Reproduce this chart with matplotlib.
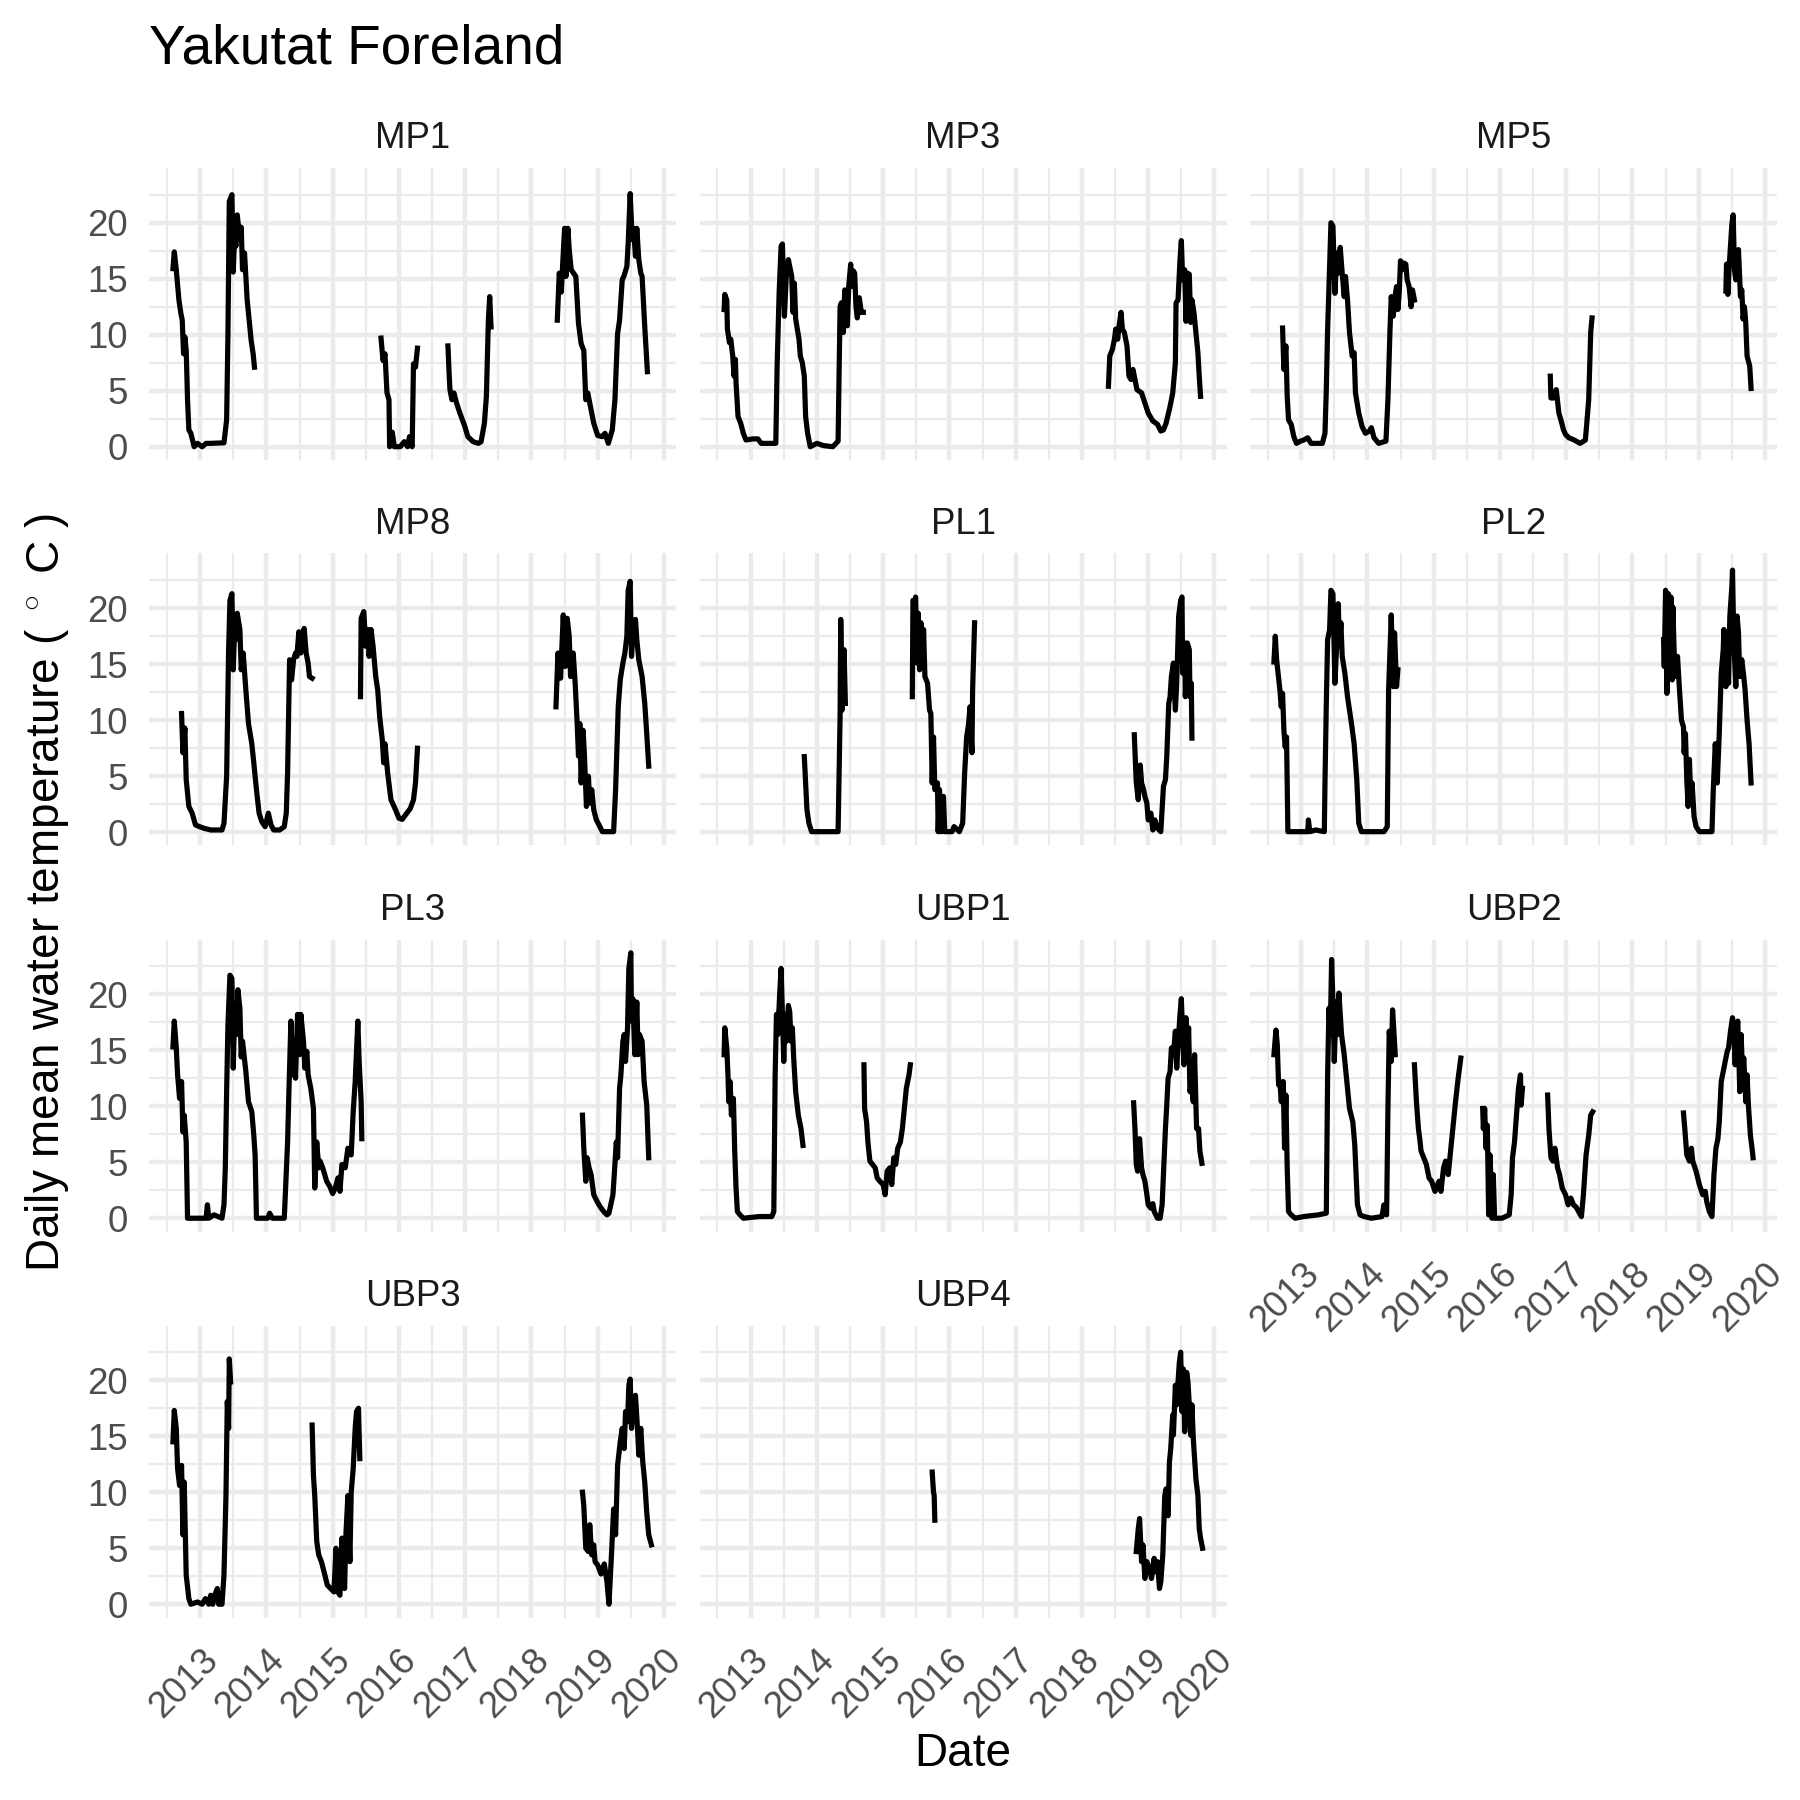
import numpy as np
import matplotlib
matplotlib.use("Agg")
import matplotlib.pyplot as plt

plt.rcParams["font.family"] = ["Liberation Sans", "DejaVu Sans"]
plt.rcParams["mathtext.fontset"] = "custom"
plt.rcParams["mathtext.rm"] = "Liberation Sans"

TITLE = "Yakutat Foreland"
SITES = ["MP1", "MP3", "MP5", "MP8", "PL1", "PL2", "PL3", "UBP1", "UBP2", "UBP3", "UBP4"]
YEAR_TICKS = [2013, 2014, 2015, 2016, 2017, 2018, 2019, 2020]
TEMP_TICKS = [0, 5, 10, 15, 20]

GAP = (None, None)

# (decimal year, daily mean water temperature degC)
MP1 = [
    (2012.59, 15.9), (2012.61, 17.4), (2012.64, 15.8), (2012.68, 13.1), (2012.71, 11.9),
    (2012.73, 11.3), (2012.75, 8.3), (2012.77, 9.8), (2012.79, 8.6), (2012.81, 4.2),
    (2012.83, 1.5), (2012.86, 1.2), (2012.91, 0.0), (2012.96, 0.3), (2013.03, 0.0),
    (2013.09, 0.3), (2013.16, 0.3), (2013.36, 0.35), (2013.40, 2.4), (2013.42, 10.1),
    (2013.44, 21.9), (2013.48, 22.5), (2013.50, 15.6), (2013.52, 18.75), (2013.54, 17.9),
    (2013.56, 20.7), (2013.60, 18.5), (2013.62, 19.6), (2013.64, 15.8), (2013.67, 17.3),
    (2013.71, 13.1), (2013.77, 9.5), (2013.80, 8.3), (2013.82, 7.1),
    GAP,
    (2015.73, 9.7), (2015.76, 7.7), (2015.79, 8.3), (2015.82, 4.8), (2015.85, 4.2),
    (2015.86, 0.0), (2015.90, 1.3), (2015.93, 0.0), (2016.02, 0.0), (2016.08, 0.45),
    (2016.13, 0.0), (2016.16, 0.9), (2016.20, 0.0), (2016.22, 7.4), (2016.25, 7.1),
    (2016.28, 8.8),
    GAP,
    (2016.74, 9.0), (2016.76, 6.25), (2016.77, 5.1), (2016.80, 4.2), (2016.83, 4.8),
    (2016.87, 3.9), (2016.92, 3.0), (2016.99, 1.9), (2017.04, 0.9), (2017.12, 0.45),
    (2017.20, 0.3), (2017.24, 0.45), (2017.29, 2.1), (2017.32, 4.5), (2017.35, 11.3),
    (2017.37, 13.4), (2017.39, 10.7),
    GAP,
    (2018.39, 11.3), (2018.42, 15.5), (2018.45, 13.8), (2018.47, 16.1), (2018.50, 19.5),
    (2018.52, 15.2), (2018.55, 19.5), (2018.57, 17.6), (2018.60, 15.8), (2018.67, 15.2),
    (2018.71, 11.0), (2018.75, 9.2), (2018.79, 8.6), (2018.82, 4.2), (2018.85, 4.8),
    (2018.88, 3.9), (2018.94, 2.1), (2019.00, 1.0), (2019.07, 0.9), (2019.11, 1.2),
    (2019.16, 0.3), (2019.22, 1.5), (2019.26, 4.2), (2019.30, 10.1), (2019.33, 11.3),
    (2019.37, 14.9), (2019.40, 15.3), (2019.44, 16.1), (2019.46, 18.2), (2019.49, 22.6),
    (2019.52, 18.5), (2019.54, 19.5), (2019.57, 17.0), (2019.59, 19.5), (2019.62, 16.7),
    (2019.65, 15.5), (2019.67, 15.2), (2019.71, 10.7), (2019.75, 6.7),
]

MP3 = [
    (2012.60, 12.25), (2012.61, 13.6), (2012.64, 13.1), (2012.65, 10.5), (2012.68, 9.3),
    (2012.70, 9.6), (2012.73, 8.1), (2012.75, 6.3), (2012.77, 7.8), (2012.78, 5.7),
    (2012.81, 2.7), (2012.85, 2.1), (2012.89, 1.2), (2012.93, 0.6), (2013.03, 0.7),
    (2013.11, 0.7), (2013.16, 0.3), (2013.38, 0.3), (2013.40, 7.2), (2013.43, 13.7),
    (2013.46, 17.9), (2013.48, 18.1), (2013.51, 11.65), (2013.54, 15.5), (2013.57, 16.7),
    (2013.59, 16.1), (2013.62, 15.2), (2013.64, 12.0), (2013.66, 14.6), (2013.68, 11.4),
    (2013.73, 9.6), (2013.75, 8.1), (2013.78, 7.5), (2013.81, 6.3), (2013.83, 2.7),
    (2013.86, 1.2), (2013.90, 0.0), (2014.00, 0.3), (2014.10, 0.1), (2014.24, 0.0),
    (2014.32, 0.5), (2014.35, 12.5), (2014.37, 12.85), (2014.40, 10.2), (2014.42, 14.0),
    (2014.44, 13.7), (2014.46, 10.8), (2014.48, 14.3), (2014.51, 16.3), (2014.52, 14.3),
    (2014.55, 15.7), (2014.57, 15.5), (2014.59, 12.5), (2014.61, 11.5), (2014.64, 13.3),
    (2014.67, 12.0), (2014.70, 12.0),
    GAP,
    (2018.40, 5.4), (2018.42, 8.1), (2018.46, 8.7), (2018.49, 9.6), (2018.51, 10.5),
    (2018.54, 9.6), (2018.56, 10.8), (2018.59, 12.0), (2018.61, 10.5), (2018.64, 10.2),
    (2018.68, 9.0), (2018.71, 6.3), (2018.74, 6.0), (2018.77, 6.9), (2018.80, 6.0),
    (2018.83, 5.1), (2018.90, 4.8), (2018.95, 3.9), (2019.00, 3.0), (2019.07, 2.3),
    (2019.14, 2.0), (2019.19, 1.4), (2019.23, 1.5), (2019.27, 2.1), (2019.33, 3.6),
    (2019.37, 4.8), (2019.41, 7.5), (2019.42, 12.85), (2019.45, 13.1), (2019.48, 16.7),
    (2019.50, 18.4), (2019.52, 14.9), (2019.55, 15.8), (2019.57, 11.2), (2019.59, 15.5),
    (2019.62, 15.4), (2019.64, 11.1), (2019.66, 13.1), (2019.69, 12.0), (2019.72, 10.2),
    (2019.75, 8.4), (2019.77, 6.3), (2019.79, 4.5),
]

MP5 = [
    (2012.72, 10.6), (2012.74, 6.9), (2012.77, 9.0), (2012.79, 4.5), (2012.81, 2.4),
    (2012.85, 2.0), (2012.89, 0.9), (2012.93, 0.3), (2012.99, 0.5), (2013.04, 0.6),
    (2013.10, 0.8), (2013.15, 0.3), (2013.32, 0.3), (2013.36, 1.2), (2013.38, 5.1),
    (2013.40, 10.5), (2013.43, 16.1), (2013.45, 20.0), (2013.48, 19.7), (2013.51, 13.7),
    (2013.54, 17.3), (2013.56, 15.5), (2013.59, 17.8), (2013.62, 15.5), (2013.65, 13.4),
    (2013.67, 15.2), (2013.70, 13.1), (2013.73, 10.2), (2013.77, 8.1), (2013.80, 8.4),
    (2013.82, 4.8), (2013.87, 3.0), (2013.92, 1.8), (2013.97, 1.2), (2014.03, 1.4),
    (2014.06, 1.7), (2014.10, 0.8), (2014.17, 0.3), (2014.28, 0.5), (2014.31, 4.2),
    (2014.34, 10.2), (2014.36, 13.4), (2014.39, 11.65), (2014.41, 13.1), (2014.44, 14.3),
    (2014.46, 12.25), (2014.48, 13.7), (2014.50, 16.6), (2014.52, 15.8), (2014.55, 16.4),
    (2014.58, 16.3), (2014.60, 14.9), (2014.63, 14.3), (2014.66, 12.5), (2014.68, 14.0),
    (2014.71, 13.1),
    GAP,
    (2016.76, 6.3), (2016.77, 4.35), (2016.81, 4.35), (2016.85, 5.1), (2016.89, 3.0),
    (2016.92, 2.4), (2016.96, 1.5), (2016.99, 1.1), (2017.04, 0.8), (2017.12, 0.6),
    (2017.21, 0.3), (2017.29, 0.6), (2017.34, 4.2), (2017.37, 10.2), (2017.39, 11.5),
    GAP,
    (2019.41, 13.9), (2019.42, 16.3), (2019.44, 13.6), (2019.46, 16.1), (2019.50, 19.85),
    (2019.52, 20.7), (2019.54, 15.8), (2019.56, 14.9), (2019.58, 17.5), (2019.60, 17.6),
    (2019.63, 13.4), (2019.65, 14.0), (2019.67, 11.4), (2019.69, 12.5), (2019.71, 11.1),
    (2019.73, 8.1), (2019.77, 7.2), (2019.79, 5.2),
]

MP8 = [
    (2012.72, 10.6), (2012.74, 7.1), (2012.77, 9.3), (2012.79, 4.7), (2012.83, 2.3),
    (2012.88, 1.7), (2012.93, 0.65), (2012.99, 0.5), (2013.06, 0.35), (2013.16, 0.2),
    (2013.33, 0.2), (2013.36, 0.8), (2013.40, 5.0), (2013.43, 16.3), (2013.45, 20.7),
    (2013.48, 21.3), (2013.50, 14.5), (2013.52, 18.1), (2013.54, 17.2), (2013.56, 19.55),
    (2013.60, 18.1), (2013.62, 14.5), (2013.65, 16.0), (2013.69, 12.7), (2013.73, 9.7),
    (2013.78, 7.9), (2013.81, 6.2), (2013.85, 3.8), (2013.89, 1.7), (2013.93, 0.95),
    (2013.98, 0.5), (2014.03, 1.7), (2014.07, 0.65), (2014.11, 0.2), (2014.20, 0.2),
    (2014.27, 0.5), (2014.30, 1.7), (2014.32, 5.3), (2014.35, 15.4), (2014.38, 13.6),
    (2014.41, 15.4), (2014.44, 16.0), (2014.46, 15.7), (2014.49, 17.9), (2014.52, 16.0),
    (2014.54, 16.9), (2014.57, 18.2), (2014.60, 16.0), (2014.63, 15.1), (2014.65, 13.9),
    (2014.69, 13.75),
    GAP,
    (2015.42, 12.1), (2015.43, 19.1), (2015.47, 19.7), (2015.50, 16.6), (2015.53, 18.1),
    (2015.55, 15.7), (2015.58, 18.1), (2015.61, 16.6), (2015.65, 13.9), (2015.68, 12.7),
    (2015.71, 10.3), (2015.75, 8.2), (2015.77, 6.2), (2015.79, 7.9), (2015.83, 5.3),
    (2015.88, 2.9), (2015.95, 2.0), (2016.00, 1.25), (2016.05, 1.15), (2016.10, 1.55),
    (2016.17, 2.1), (2016.22, 2.9), (2016.25, 4.4), (2016.28, 7.5),
    GAP,
    (2018.37, 11.2), (2018.40, 16.0), (2018.44, 13.75), (2018.46, 16.6), (2018.48, 19.4),
    (2018.51, 14.8), (2018.54, 19.1), (2018.57, 17.5), (2018.59, 13.9), (2018.63, 16.0),
    (2018.66, 13.3), (2018.69, 9.7), (2018.71, 6.8), (2018.73, 9.7), (2018.75, 4.4),
    (2018.78, 9.1), (2018.80, 6.8), (2018.83, 2.3), (2018.86, 5.0), (2018.88, 2.6),
    (2018.91, 3.8), (2018.94, 2.0), (2018.98, 1.1), (2019.02, 0.65), (2019.07, 0.05),
    (2019.24, 0.05), (2019.27, 3.8), (2019.31, 11.2), (2019.34, 13.6), (2019.38, 15.1),
    (2019.41, 16.0), (2019.44, 17.5), (2019.46, 21.6), (2019.49, 22.4), (2019.51, 15.7),
    (2019.54, 18.4), (2019.57, 19.0), (2019.59, 17.2), (2019.62, 15.4), (2019.65, 14.5),
    (2019.67, 13.9), (2019.71, 11.5), (2019.74, 8.8), (2019.77, 5.9),
]

PL1 = [
    (2013.81, 6.75), (2013.82, 5.6), (2013.85, 2.0), (2013.88, 0.8), (2013.92, 0.05),
    (2014.32, 0.05), (2014.35, 10.3), (2014.36, 19.0), (2014.38, 10.9), (2014.41, 16.3),
    (2014.43, 11.5),
    GAP,
    (2015.44, 12.1), (2015.45, 20.7), (2015.48, 20.4), (2015.49, 21.0), (2015.51, 15.1),
    (2015.53, 19.55), (2015.55, 14.5), (2015.57, 18.7), (2015.59, 14.8), (2015.61, 18.1),
    (2015.63, 13.9), (2015.67, 13.3), (2015.70, 10.9), (2015.72, 10.6), (2015.74, 4.4),
    (2015.76, 8.5), (2015.78, 3.8), (2015.82, 4.4), (2015.83, 0.05), (2015.85, 3.8),
    (2015.88, 0.05), (2015.91, 3.2), (2015.93, 0.05), (2016.04, 0.05), (2016.07, 0.5),
    (2016.15, 0.05), (2016.20, 0.8), (2016.23, 5.3), (2016.26, 8.5), (2016.29, 9.7),
    (2016.31, 11.2), (2016.34, 7.1), (2016.35, 12.7), (2016.38, 18.7),
    GAP,
    (2018.79, 8.7), (2018.82, 4.4), (2018.85, 2.9), (2018.88, 6.0), (2018.90, 4.4),
    (2018.93, 3.8), (2018.95, 3.2), (2018.98, 2.6), (2019.00, 1.1), (2019.04, 1.7),
    (2019.07, 0.2), (2019.10, 1.1), (2019.14, 0.35), (2019.19, 0.05), (2019.23, 4.1),
    (2019.26, 4.7), (2019.28, 6.75), (2019.31, 11.5), (2019.33, 12.1), (2019.35, 13.9),
    (2019.38, 15.1), (2019.41, 10.9), (2019.43, 13.3), (2019.46, 19.3), (2019.49, 20.7),
    (2019.51, 21.0), (2019.52, 14.2), (2019.55, 16.9), (2019.56, 12.1), (2019.59, 16.9),
    (2019.62, 16.3), (2019.63, 12.1), (2019.65, 13.3), (2019.66, 8.4),
]

PL2 = [
    (2012.59, 15.2), (2012.61, 17.5), (2012.63, 15.4), (2012.68, 12.7), (2012.70, 11.2),
    (2012.72, 12.4), (2012.74, 9.1), (2012.76, 7.6), (2012.78, 8.5), (2012.80, 0.05),
    (2013.10, 0.05), (2013.11, 1.1), (2013.13, 0.05), (2013.22, 0.2), (2013.35, 0.05),
    (2013.36, 4.4), (2013.38, 11.5), (2013.40, 17.2), (2013.43, 18.1), (2013.45, 21.6),
    (2013.48, 21.3), (2013.51, 13.3), (2013.54, 17.2), (2013.56, 20.4), (2013.58, 16.6),
    (2013.60, 18.7), (2013.62, 15.7), (2013.66, 14.2), (2013.70, 12.1), (2013.76, 9.7),
    (2013.80, 7.9), (2013.84, 4.7), (2013.87, 0.8), (2013.91, 0.05), (2014.25, 0.05),
    (2014.30, 0.5), (2014.32, 12.7), (2014.34, 16.0), (2014.36, 19.4), (2014.39, 13.0),
    (2014.41, 17.8), (2014.44, 13.0), (2014.46, 14.5),
    GAP,
    (2018.47, 17.2), (2018.48, 14.8), (2018.50, 21.6), (2018.52, 12.4), (2018.54, 21.3),
    (2018.56, 13.9), (2018.58, 21.0), (2018.60, 13.6), (2018.61, 20.1), (2018.63, 16.0),
    (2018.66, 13.9), (2018.68, 15.7), (2018.71, 12.7), (2018.74, 10.0), (2018.77, 9.4),
    (2018.78, 7.1), (2018.80, 8.8), (2018.82, 4.7), (2018.84, 2.3), (2018.86, 6.5),
    (2018.88, 2.9), (2018.90, 4.4), (2018.93, 1.4), (2018.96, 0.5), (2019.01, 0.05),
    (2019.20, 0.05), (2019.22, 3.8), (2019.25, 7.9), (2019.28, 4.4), (2019.31, 8.8),
    (2019.34, 14.2), (2019.37, 16.3), (2019.38, 18.1), (2019.41, 13.0), (2019.43, 17.2),
    (2019.45, 13.3), (2019.47, 19.3), (2019.50, 21.9), (2019.51, 23.4), (2019.53, 16.9),
    (2019.56, 13.0), (2019.58, 19.3), (2019.60, 17.8), (2019.62, 13.9), (2019.65, 15.4),
    (2019.68, 13.9), (2019.70, 12.7), (2019.73, 10.0), (2019.76, 7.9), (2019.79, 4.4),
]

PL3 = [
    (2012.59, 15.3), (2012.61, 17.6), (2012.64, 15.2), (2012.66, 12.8), (2012.69, 10.7),
    (2012.72, 12.2), (2012.74, 7.7), (2012.76, 9.2), (2012.79, 6.8), (2012.81, 0.0),
    (2013.09, 0.0), (2013.11, 1.2), (2013.13, 0.0), (2013.21, 0.3), (2013.33, 0.0),
    (2013.36, 1.2), (2013.38, 4.5), (2013.40, 11.3), (2013.42, 17.3), (2013.45, 21.7),
    (2013.48, 21.4), (2013.50, 13.4), (2013.52, 18.2), (2013.55, 16.4), (2013.57, 20.4),
    (2013.60, 18.75), (2013.62, 14.4), (2013.64, 15.8), (2013.69, 13.1), (2013.73, 10.4),
    (2013.78, 9.5), (2013.81, 7.4), (2013.83, 5.65), (2013.85, 0.0), (2014.02, 0.0),
    (2014.05, 0.45), (2014.09, 0.0), (2014.27, 0.0), (2014.29, 2.7), (2014.32, 6.8),
    (2014.34, 11.3), (2014.37, 17.6), (2014.40, 12.8), (2014.42, 15.8), (2014.44, 12.5),
    (2014.47, 18.2), (2014.50, 14.6), (2014.52, 18.2), (2014.56, 15.8), (2014.58, 13.4),
    (2014.61, 14.9), (2014.63, 12.8), (2014.67, 11.6), (2014.71, 9.8), (2014.73, 2.7),
    (2014.76, 6.8), (2014.79, 4.5), (2014.81, 5.1), (2014.85, 4.5), (2014.91, 3.3),
    (2014.96, 2.8), (2015.00, 2.2), (2015.04, 2.7), (2015.08, 3.6), (2015.11, 2.4),
    (2015.14, 4.8), (2015.19, 4.5), (2015.23, 6.25), (2015.28, 5.65), (2015.31, 9.5),
    (2015.34, 12.2), (2015.38, 17.6), (2015.40, 14.0), (2015.43, 10.4), (2015.44, 7.1),
    GAP,
    (2018.77, 9.2), (2018.79, 6.25), (2018.82, 3.3), (2018.84, 5.4), (2018.87, 4.5),
    (2018.90, 3.9), (2018.94, 2.1), (2018.99, 1.5), (2019.04, 1.0), (2019.09, 0.6),
    (2019.14, 0.3), (2019.17, 0.45), (2019.23, 2.1), (2019.25, 3.9), (2019.28, 6.8),
    (2019.30, 5.4), (2019.33, 11.6), (2019.35, 12.8), (2019.38, 15.8), (2019.40, 16.4),
    (2019.42, 14.0), (2019.45, 17.0), (2019.47, 22.3), (2019.50, 23.7), (2019.51, 17.6),
    (2019.53, 19.6), (2019.56, 14.6), (2019.59, 19.3), (2019.61, 14.6), (2019.63, 16.4),
    (2019.67, 15.8), (2019.70, 12.2), (2019.74, 10.1), (2019.77, 5.4),
]

UBP1 = [
    (2012.60, 14.6), (2012.61, 17.0), (2012.64, 15.2), (2012.66, 12.5), (2012.67, 10.4),
    (2012.69, 12.2), (2012.71, 9.2), (2012.74, 10.7), (2012.76, 6.0), (2012.78, 2.7),
    (2012.80, 0.6), (2012.84, 0.3), (2012.89, 0.0), (2013.13, 0.15), (2013.32, 0.15),
    (2013.35, 0.6), (2013.37, 12.8), (2013.39, 18.2), (2013.41, 16.4), (2013.44, 20.2),
    (2013.46, 22.3), (2013.48, 18.2), (2013.50, 14.0), (2013.52, 18.2), (2013.54, 15.8),
    (2013.57, 19.0), (2013.59, 18.45), (2013.61, 15.8), (2013.63, 17.0), (2013.65, 14.3),
    (2013.68, 11.3), (2013.72, 9.2), (2013.74, 8.6), (2013.76, 8.0), (2013.79, 6.5),
    GAP,
    (2014.71, 13.7), (2014.72, 9.8), (2014.75, 8.6), (2014.77, 6.8), (2014.80, 5.1),
    (2014.84, 4.8), (2014.88, 4.5), (2014.91, 3.6), (2014.95, 3.3), (2015.00, 3.0),
    (2015.03, 2.1), (2015.06, 4.2), (2015.10, 4.5), (2015.13, 3.0), (2015.16, 5.4),
    (2015.19, 4.8), (2015.22, 6.25), (2015.26, 6.8), (2015.29, 8.0), (2015.32, 9.8),
    (2015.35, 11.6), (2015.39, 12.8), (2015.41, 13.7),
    GAP,
    (2018.78, 10.3), (2018.80, 8.0), (2018.82, 4.8), (2018.84, 4.2), (2018.87, 7.1),
    (2018.90, 4.5), (2018.92, 3.9), (2018.95, 3.3), (2018.98, 2.1), (2019.00, 1.2),
    (2019.04, 0.9), (2019.07, 1.3), (2019.09, 0.6), (2019.14, 0.0), (2019.18, 0.0),
    (2019.21, 1.2), (2019.23, 3.9), (2019.26, 8.0), (2019.28, 10.1), (2019.30, 12.5),
    (2019.33, 13.1), (2019.35, 15.2), (2019.38, 14.6), (2019.41, 16.7), (2019.43, 13.4),
    (2019.46, 16.4), (2019.48, 18.2), (2019.50, 19.6), (2019.52, 16.4), (2019.54, 13.7),
    (2019.57, 17.9), (2019.59, 15.2), (2019.61, 17.0), (2019.63, 11.3), (2019.65, 11.9),
    (2019.68, 10.4), (2019.70, 14.6), (2019.73, 8.0), (2019.76, 8.0), (2019.78, 6.0),
    (2019.81, 4.9),
]

UBP2 = [
    (2012.59, 14.6), (2012.62, 16.8), (2012.64, 15.5), (2012.66, 11.9), (2012.68, 12.2),
    (2012.70, 10.4), (2012.73, 12.2), (2012.75, 6.25), (2012.77, 11.0), (2012.79, 4.5),
    (2012.81, 0.6), (2012.85, 0.3), (2012.91, 0.0), (2013.04, 0.15), (2013.26, 0.3),
    (2013.38, 0.45), (2013.40, 12.8), (2013.42, 18.75), (2013.44, 16.4), (2013.46, 23.1),
    (2013.48, 19.35), (2013.50, 14.0), (2013.53, 19.35), (2013.55, 16.4), (2013.57, 20.1),
    (2013.59, 18.2), (2013.61, 16.4), (2013.65, 14.6), (2013.69, 12.2), (2013.73, 9.8),
    (2013.78, 8.6), (2013.81, 6.5), (2013.83, 3.9), (2013.85, 1.2), (2013.89, 0.3),
    (2013.95, 0.15), (2014.06, 0.0), (2014.22, 0.15), (2014.25, 1.2), (2014.29, 0.3),
    (2014.31, 9.8), (2014.33, 16.7), (2014.36, 14.0), (2014.38, 18.6), (2014.40, 16.7),
    (2014.42, 14.6),
    GAP,
    (2014.71, 13.7), (2014.74, 10.4), (2014.77, 8.0), (2014.79, 7.1), (2014.81, 6.0),
    (2014.85, 5.4), (2014.89, 4.8), (2014.93, 3.6), (2014.97, 3.3), (2015.02, 2.4),
    (2015.04, 2.7), (2015.08, 3.3), (2015.11, 2.4), (2015.15, 4.5), (2015.18, 5.1),
    (2015.22, 3.9), (2015.26, 6.25), (2015.30, 8.6), (2015.33, 10.4), (2015.37, 12.5),
    (2015.41, 14.3),
    GAP,
    (2015.74, 9.8), (2015.75, 8.0), (2015.77, 9.8), (2015.79, 6.25), (2015.81, 8.3),
    (2015.83, 0.3), (2015.85, 5.65), (2015.87, 2.7), (2015.88, 0.0), (2015.90, 3.9),
    (2015.92, 0.0), (2016.03, 0.0), (2016.14, 0.3), (2016.17, 2.1), (2016.19, 5.4),
    (2016.22, 6.8), (2016.25, 9.2), (2016.28, 11.6), (2016.31, 12.8), (2016.32, 10.1),
    (2016.34, 11.6),
    GAP,
    (2016.72, 11.0), (2016.74, 8.0), (2016.77, 5.4), (2016.80, 5.1), (2016.83, 6.25),
    (2016.87, 4.5), (2016.90, 3.9), (2016.94, 2.7), (2016.99, 2.1), (2017.03, 1.2),
    (2017.07, 1.8), (2017.11, 1.2), (2017.15, 1.0), (2017.20, 0.45), (2017.23, 0.15),
    (2017.26, 2.1), (2017.30, 5.65), (2017.34, 7.4), (2017.37, 9.2), (2017.40, 9.5),
    GAP,
    (2018.77, 9.4), (2018.79, 8.0), (2018.82, 5.65), (2018.86, 5.1), (2018.89, 6.25),
    (2018.91, 5.1), (2018.96, 4.2), (2019.01, 3.0), (2019.06, 2.1), (2019.10, 2.4),
    (2019.12, 1.5), (2019.16, 0.6), (2019.20, 0.15), (2019.23, 3.9), (2019.26, 6.25),
    (2019.29, 7.1), (2019.31, 8.6), (2019.34, 12.2), (2019.37, 13.1), (2019.40, 14.0),
    (2019.43, 14.9), (2019.45, 15.2), (2019.48, 16.7), (2019.51, 17.9), (2019.53, 16.7),
    (2019.55, 13.7), (2019.57, 17.0), (2019.59, 17.6), (2019.62, 11.3), (2019.64, 16.4),
    (2019.66, 13.1), (2019.68, 14.3), (2019.71, 10.4), (2019.73, 12.8), (2019.75, 10.1),
    (2019.78, 7.4), (2019.81, 6.0), (2019.82, 5.4),
]

UBP3 = [
    (2012.59, 14.5), (2012.61, 17.3), (2012.64, 15.7), (2012.66, 12.1), (2012.69, 10.6),
    (2012.72, 12.4), (2012.74, 6.2), (2012.76, 10.9), (2012.79, 2.6), (2012.83, 0.5),
    (2012.86, 0.0), (2012.96, 0.2), (2013.03, 0.0), (2013.08, 0.5), (2013.13, 0.0),
    (2013.16, 0.8), (2013.19, 0.0), (2013.23, 0.95), (2013.26, 1.4), (2013.28, 0.0),
    (2013.33, 0.0), (2013.36, 2.6), (2013.39, 9.7), (2013.41, 18.1), (2013.43, 15.7),
    (2013.44, 21.9), (2013.46, 19.85),
    GAP,
    (2014.69, 16.0), (2014.71, 11.5), (2014.73, 9.7), (2014.76, 5.6), (2014.79, 4.4),
    (2014.83, 3.8), (2014.87, 2.9), (2014.92, 1.7), (2014.97, 1.4), (2015.02, 1.1),
    (2015.05, 5.0), (2015.08, 1.1), (2015.11, 0.8), (2015.14, 5.9), (2015.18, 1.4),
    (2015.20, 6.2), (2015.23, 9.7), (2015.26, 3.8), (2015.28, 10.0), (2015.31, 12.1),
    (2015.34, 15.7), (2015.36, 17.2), (2015.39, 17.5), (2015.41, 13.0),
    GAP,
    (2018.77, 10.0), (2018.79, 8.8), (2018.82, 5.0), (2018.86, 4.7), (2018.88, 7.1),
    (2018.91, 4.4), (2018.94, 5.3), (2018.96, 3.8), (2019.00, 3.5), (2019.05, 2.7),
    (2019.10, 3.6), (2019.14, 2.0), (2019.17, 0.0), (2019.21, 4.7), (2019.24, 8.5),
    (2019.27, 6.2), (2019.30, 12.4), (2019.34, 14.5), (2019.37, 15.7), (2019.40, 13.9),
    (2019.42, 17.2), (2019.45, 16.3), (2019.47, 19.55), (2019.49, 20.1), (2019.51, 15.7),
    (2019.54, 18.1), (2019.57, 18.65), (2019.60, 15.7), (2019.62, 13.3), (2019.65, 15.7),
    (2019.68, 12.7), (2019.71, 10.9), (2019.74, 8.2), (2019.77, 6.2), (2019.81, 5.3),
]

UBP4 = [
    (2015.74, 11.8), (2015.76, 10.0), (2015.77, 9.7), (2015.78, 7.5),
    GAP,
    (2018.82, 4.7), (2018.85, 6.75), (2018.87, 7.65), (2018.90, 3.8), (2018.92, 5.3),
    (2018.95, 2.3), (2018.98, 3.8), (2019.02, 3.2), (2019.05, 2.3), (2019.09, 4.1),
    (2019.11, 2.9), (2019.14, 3.8), (2019.17, 1.4), (2019.19, 2.0), (2019.22, 4.4),
    (2019.25, 9.7), (2019.27, 10.3), (2019.30, 7.9), (2019.32, 12.7), (2019.34, 13.9),
    (2019.37, 16.9), (2019.38, 15.1), (2019.41, 19.55), (2019.43, 17.8), (2019.45, 19.85),
    (2019.47, 21.6), (2019.49, 22.5), (2019.51, 17.2), (2019.53, 21.0), (2019.55, 15.4),
    (2019.58, 20.7), (2019.60, 19.85), (2019.62, 17.8), (2019.64, 15.1), (2019.66, 17.8),
    (2019.68, 14.8), (2019.72, 11.2), (2019.75, 9.7), (2019.77, 6.75), (2019.79, 5.9),
    (2019.82, 5.0),
]

SERIES = {"MP1": MP1, "MP3": MP3, "MP5": MP5, "MP8": MP8, "PL1": PL1, "PL2": PL2,
          "PL3": PL3, "UBP1": UBP1, "UBP2": UBP2, "UBP3": UBP3, "UBP4": UBP4}

# layout in pixels of the 1800 x 1800 output
FIG_PX = 1800
COL_LEFT = [149, 699.5, 1250]
ROW_TOP = [168, 553.5, 939.5, 1325.5]
PANEL_W = 527
PANEL_H = 292

GRID = "#EBEBEB"
TEXT_GREY = "#4D4D4D"
STRIP_GREY = "#1A1A1A"


def to_arrays(points):
    arr = np.array([[np.nan if v is None else v for v in p] for p in points], dtype=float)
    return arr[:, 0], arr[:, 1]


def main():
    fig = plt.figure(figsize=(6, 6), dpi=300)

    all_x = np.concatenate([to_arrays(SERIES[s])[0] for s in SITES])
    all_y = np.concatenate([to_arrays(SERIES[s])[1] for s in SITES])
    x0, x1 = np.nanmin(all_x), np.nanmax(all_x)
    y0, y1 = np.nanmin(all_y), np.nanmax(all_y)
    xpad, ypad = 0.05 * (x1 - x0), 0.05 * (y1 - y0)

    for i, site in enumerate(SITES):
        r, c = divmod(i, 3)
        left = COL_LEFT[c] / FIG_PX
        bottom = 1 - (ROW_TOP[r] + PANEL_H) / FIG_PX
        ax = fig.add_axes([left, bottom, PANEL_W / FIG_PX, PANEL_H / FIG_PX])

        xs, ys = to_arrays(SERIES[site])
        ax.plot(xs, ys, color="black", lw=1.25, solid_joinstyle="round", zorder=3)

        ax.set_xlim(x0 - xpad, x1 + xpad)
        ax.set_ylim(y0 - ypad, y1 + ypad)
        ax.set_xticks(YEAR_TICKS)
        ax.set_xticks([y - 0.5 for y in YEAR_TICKS], minor=True)
        ax.set_yticks(TEMP_TICKS)
        ax.set_yticks([t + 2.5 for t in TEMP_TICKS], minor=True)
        ax.grid(which="major", color=GRID, lw=1.07)
        ax.grid(which="minor", color=GRID, lw=0.53)
        ax.set_axisbelow(True)
        for sp in ax.spines.values():
            sp.set_visible(False)
        ax.tick_params(which="both", length=0, labelsize=8.8, labelcolor=TEXT_GREY)
        ax.tick_params(axis="y", pad=5)
        ax.tick_params(axis="x", pad=6)

        if c == 0:
            ax.set_yticklabels([str(t) for t in TEMP_TICKS])
        else:
            ax.set_yticklabels([])

        if i + 3 < len(SITES):
            ax.set_xticklabels([])
        else:
            ax.set_xticklabels([str(y) for y in YEAR_TICKS])
            plt.setp(ax.get_xticklabels(), rotation=45, ha="right", va="top",
                     rotation_mode="anchor")

        ax.text(0.5, 1 + 29 / PANEL_H, site, transform=ax.transAxes, ha="center",
                va="center", fontsize=8.8, color=STRIP_GREY)

    fig.text(149 / FIG_PX, 1 - 50 / FIG_PX, TITLE, ha="left", va="center", fontsize=13.2)
    fig.text(47 / FIG_PX, 1 - 893 / FIG_PX, r"Daily mean water temperature ( $^\circ$ C )",
             rotation=90, ha="center", va="center", fontsize=11)
    fig.text(963 / FIG_PX, 1 - 1754 / FIG_PX, "Date", ha="center", va="center", fontsize=11)

    fig.savefig("out.png", dpi=300)
    plt.close(fig)


if __name__ == "__main__":
    main()
